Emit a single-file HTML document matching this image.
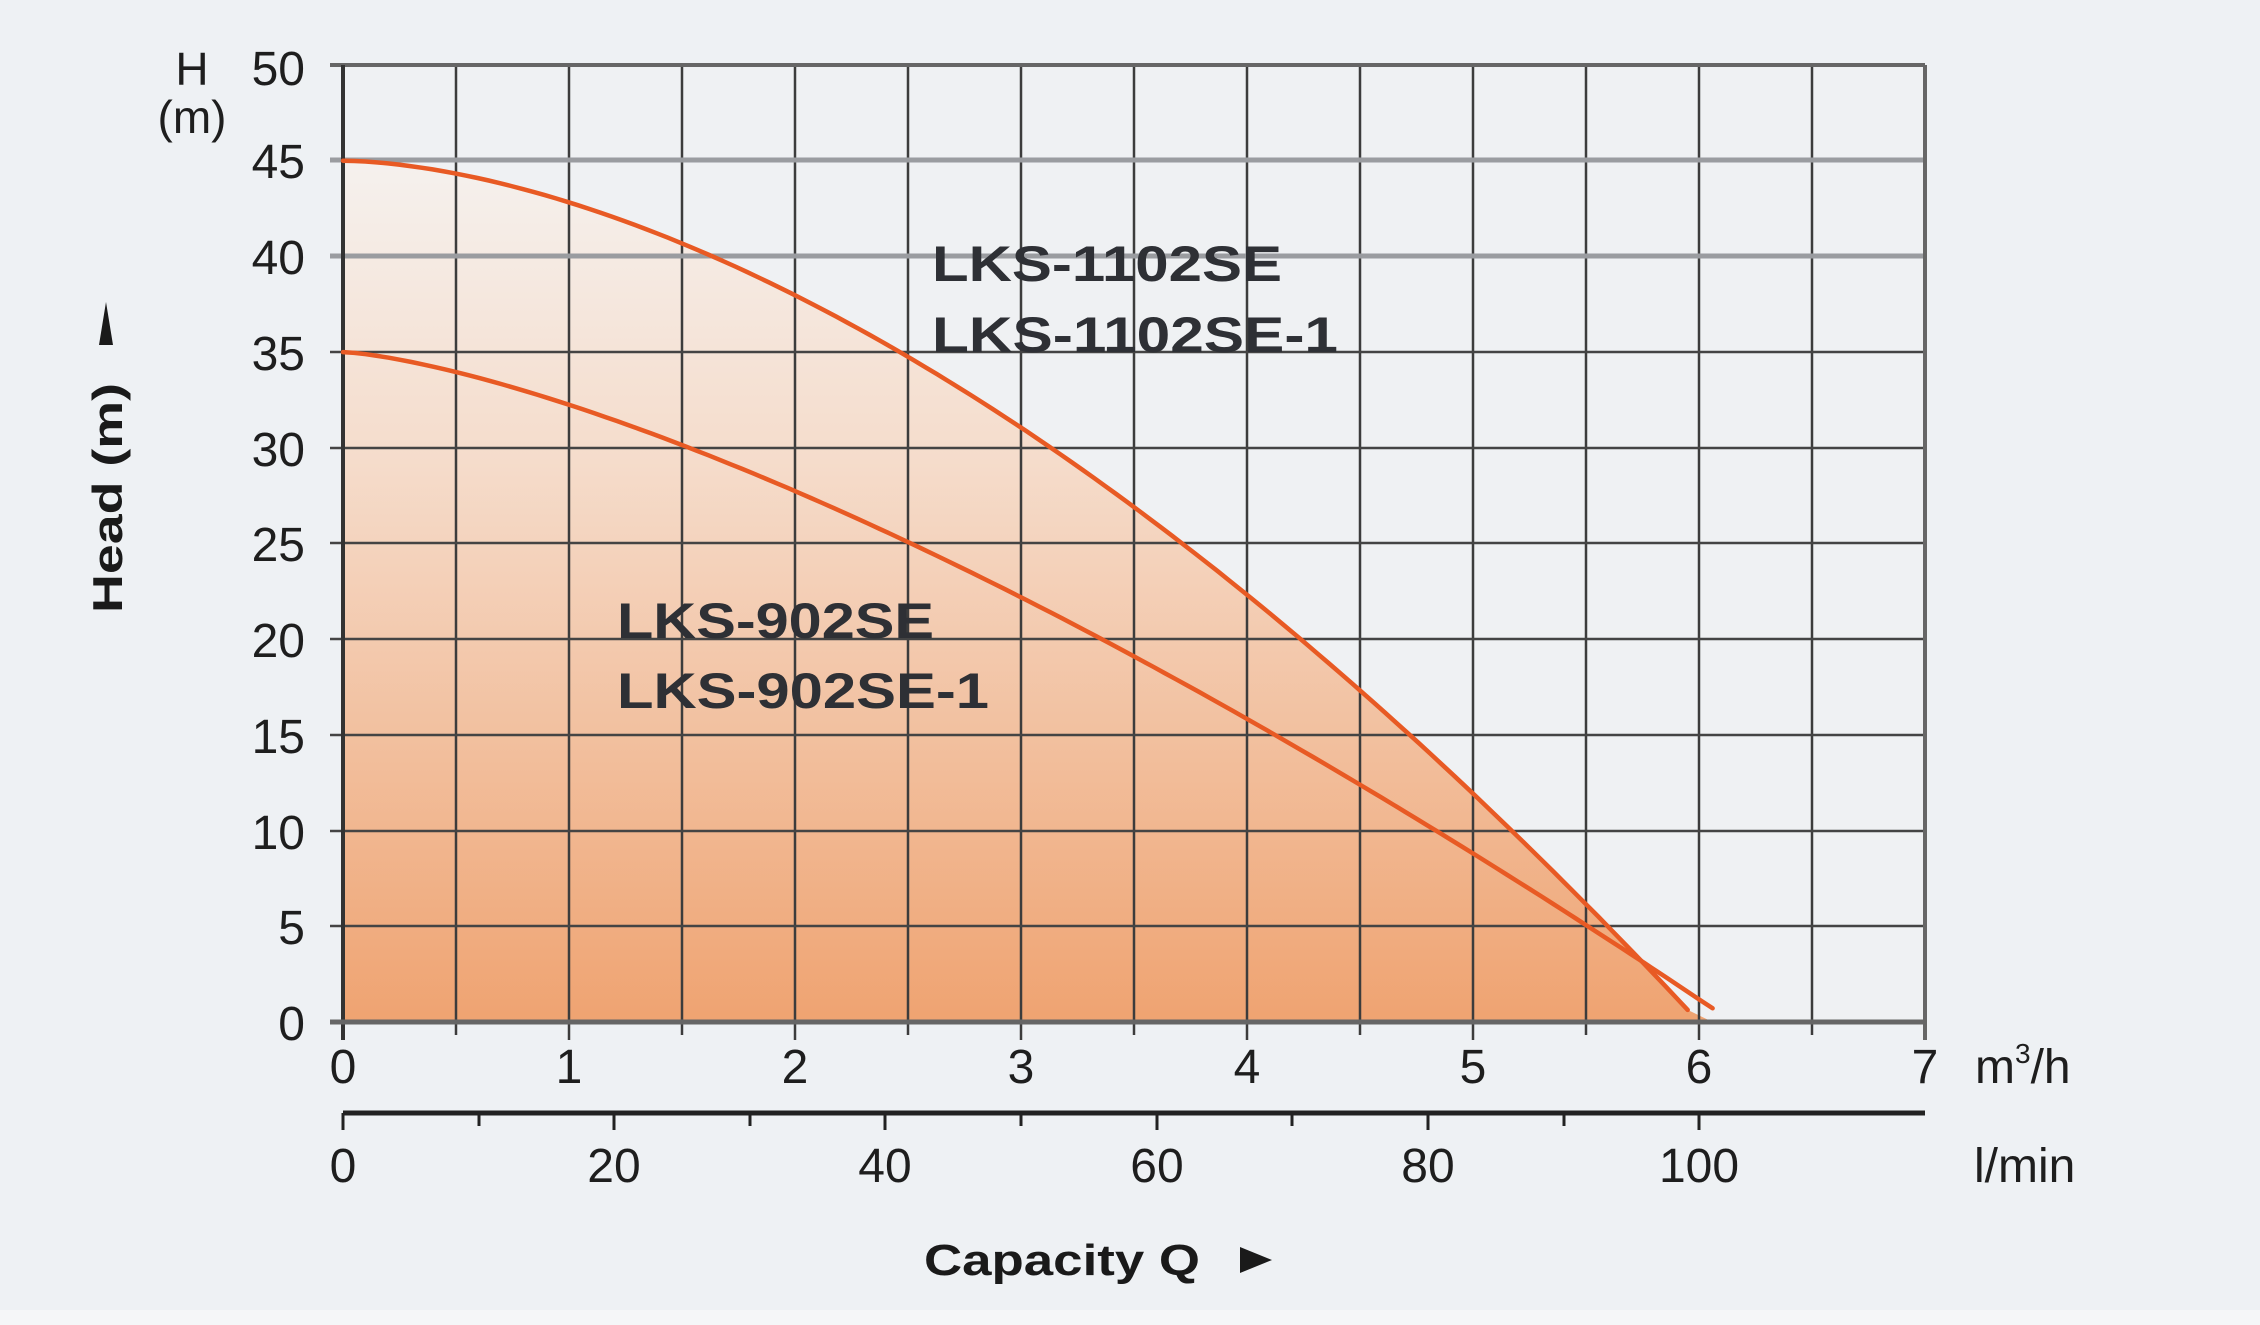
<!DOCTYPE html>
<html><head><meta charset="utf-8"><style>
html,body{margin:0;padding:0;background:#eef1f4;}
svg{display:block;}
text{font-family:"Liberation Sans",sans-serif;}
</style></head><body>
<svg id="s" width="2260" height="1325" viewBox="0 0 2260 1325" xmlns="http://www.w3.org/2000/svg">
<defs>
<linearGradient id="g" x1="0" y1="0" x2="0" y2="1" gradientUnits="objectBoundingBox">
<stop offset="0" stop-color="#f5f1ee"/>
<stop offset="0.35" stop-color="#f5dccb"/>
<stop offset="1" stop-color="#efa371"/>
</linearGradient>
</defs>
<rect x="0" y="0" width="2260" height="1310" fill="#eef1f4"/>
<rect x="0" y="1310" width="2260" height="15" fill="#f5f6f8"/>
<rect x="343" y="65" width="1582" height="957" fill="#eff1f3"/>
<path id="fill" d="" fill="url(#g)"/>
<g stroke="#3c3c3c" stroke-width="2.5">
<line x1="456" y1="65" x2="456" y2="1035"/><line x1="569" y1="65" x2="569" y2="1040"/>
<line x1="682" y1="65" x2="682" y2="1035"/><line x1="795" y1="65" x2="795" y2="1040"/>
<line x1="908" y1="65" x2="908" y2="1035"/><line x1="1021" y1="65" x2="1021" y2="1040"/>
<line x1="1134" y1="65" x2="1134" y2="1035"/><line x1="1247" y1="65" x2="1247" y2="1040"/>
<line x1="1360" y1="65" x2="1360" y2="1035"/><line x1="1473" y1="65" x2="1473" y2="1040"/>
<line x1="1586" y1="65" x2="1586" y2="1035"/><line x1="1699" y1="65" x2="1699" y2="1040"/>
<line x1="1812" y1="65" x2="1812" y2="1035"/>
</g>
<g stroke="#444" stroke-width="2.5">
<line x1="330" y1="926" x2="1925" y2="926"/><line x1="330" y1="831" x2="1925" y2="831"/>
<line x1="330" y1="735" x2="1925" y2="735"/><line x1="330" y1="639" x2="1925" y2="639"/>
<line x1="330" y1="543" x2="1925" y2="543"/><line x1="330" y1="448" x2="1925" y2="448"/>
<line x1="330" y1="352" x2="1925" y2="352"/>
</g>
<g stroke="#9a9ca0" stroke-width="5">
<line x1="330" y1="256" x2="1925" y2="256"/><line x1="330" y1="160" x2="1925" y2="160"/>
</g>
<g stroke="#666" stroke-width="4" fill="none">
<line x1="330" y1="65" x2="1925" y2="65"/>
<line x1="1925" y1="65" x2="1925" y2="1040"/>
</g>
<line x1="343" y1="65" x2="343" y2="1040" stroke="#333" stroke-width="4"/>
<line x1="330" y1="1022" x2="1925" y2="1022" stroke="#666" stroke-width="5"/>
<g fill="none" stroke="#e85a24" stroke-width="4.5" stroke-linecap="round">
<path id="c1" d=""/>
<path id="c2" d=""/>
</g>
<g font-size="48" fill="#1e1e1e" text-anchor="end">
<text x="305" y="85">50</text><text x="305" y="178">45</text><text x="305" y="274">40</text>
<text x="305" y="370">35</text><text x="305" y="466">30</text><text x="305" y="561">25</text>
<text x="305" y="657">20</text><text x="305" y="753">15</text><text x="305" y="849">10</text>
<text x="305" y="944">5</text><text x="305" y="1040">0</text>
</g>
<text x="192" y="85" font-size="46" fill="#1e1e1e" text-anchor="middle">H</text>
<text x="192" y="133" font-size="46" fill="#1e1e1e" text-anchor="middle">(m)</text>
<g font-size="48" fill="#1e1e1e" text-anchor="middle">
<text x="343" y="1083">0</text><text x="569" y="1083">1</text><text x="795" y="1083">2</text>
<text x="1021" y="1083">3</text><text x="1247" y="1083">4</text><text x="1473" y="1083">5</text>
<text x="1699" y="1083">6</text><text x="1925" y="1083">7</text>
<text x="343" y="1182">0</text><text x="614" y="1182">20</text><text x="885" y="1182">40</text>
<text x="1157" y="1182">60</text><text x="1428" y="1182">80</text><text x="1699" y="1182">100</text>
</g>
<text x="1975" y="1083" font-size="48" fill="#1e1e1e">m<tspan font-size="28" dy="-20">3</tspan><tspan dy="20">/h</tspan></text>
<text x="1974" y="1182" font-size="48" fill="#1e1e1e">l/min</text>
<g stroke="#222" stroke-width="3">
<line x1="343" y1="1113" x2="1925" y2="1113" stroke-width="5"/>
<line x1="343" y1="1113" x2="343" y2="1130"/><line x1="479" y1="1113" x2="479" y2="1126"/>
<line x1="614" y1="1113" x2="614" y2="1130"/><line x1="750" y1="1113" x2="750" y2="1126"/>
<line x1="885" y1="1113" x2="885" y2="1130"/><line x1="1021" y1="1113" x2="1021" y2="1126"/>
<line x1="1157" y1="1113" x2="1157" y2="1130"/><line x1="1292" y1="1113" x2="1292" y2="1126"/>
<line x1="1428" y1="1113" x2="1428" y2="1130"/><line x1="1564" y1="1113" x2="1564" y2="1126"/>
<line x1="1699" y1="1113" x2="1699" y2="1130"/>
</g>
<g font-size="50" font-weight="bold" fill="#2e3035">
<text x="932" y="281" textLength="350" lengthAdjust="spacingAndGlyphs">LKS-1102SE</text>
<text x="932" y="352" textLength="406" lengthAdjust="spacingAndGlyphs">LKS-1102SE-1</text>
<text x="617" y="638" textLength="317" lengthAdjust="spacingAndGlyphs">LKS-902SE</text>
<text x="617" y="708" textLength="372" lengthAdjust="spacingAndGlyphs">LKS-902SE-1</text>
</g>
<text x="924" y="1275" font-size="44" font-weight="bold" fill="#1a1a1a" textLength="276" lengthAdjust="spacingAndGlyphs">Capacity Q</text>
<polygon points="1240,1247 1272,1260 1240,1273" fill="#1a1a1a"/>
<text transform="translate(122,613) rotate(-90)" font-size="42" font-weight="bold" fill="#1a1a1a" textLength="230" lengthAdjust="spacingAndGlyphs">Head (m)</text>
<polygon points="99,345 113,345 106,302" fill="#1a1a1a"/>
</svg>
<script>
function X(q){return 343+226*q;}
function Y(h){return 1022-19.14*h;}
function pts(f,qe){var a=[];for(var i=0;i<=120;i++){var q=qe*i/120;a.push(X(q).toFixed(1)+","+Y(f(q)).toFixed(1));}return a;}
var u=pts(function(q){return 45*(1-Math.pow(q/6,1.69));},5.95);
var l=pts(function(q){return 35*(1-Math.pow(q/6.15,1.4));},6.06);
document.getElementById("c1").setAttribute("d","M"+u.join(" L"));
document.getElementById("c2").setAttribute("d","M"+l.join(" L"));
document.getElementById("fill").setAttribute("d","M"+u.join(" L")+" L"+X(6.06)+",1022 L343,1022 Z");
</script>
</body></html>
